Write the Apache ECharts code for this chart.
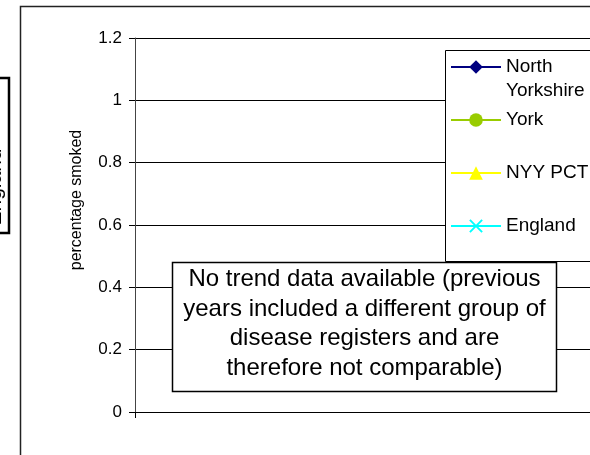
<!DOCTYPE html>
<html>
<head>
<meta charset="utf-8">
<script src="https://cdn.jsdelivr.net/npm/echarts@6/dist/echarts.min.js"></script>
<style>
  html, body { margin: 0; padding: 0; background: #fff; }
  #chart { width: 590px; height: 455px; }
</style>
</head>
<body>
<div id="chart"></div>
<script>
// ---- data (no trend data available: all series are empty) ----
const categories = [''];
const seriesNames = ['North Yorkshire', 'York', 'NYY PCT', 'England'];
const northYorkshire = [];
const york = [];
const nyyPct = [];
const england = [];
const yTicks = [0, 0.2, 0.4, 0.6, 0.8, 1, 1.2];
const yAxisTitle = 'percentage smoked';
const noteText = 'No trend data available (previous\nyears included a different group of\ndisease registers and are\ntherefore not comparable)';
const sideLabel = 'England';

const FONT = '"Liberation Sans", Arial, sans-serif';
const colors = ['#000080', '#99CC00', '#FFFF00', '#00FFFF'];
const symbols = [
  'diamond',
  'circle',
  'triangle',
  'path://M0,1L1,0L5,4L9,0L10,1L6,5L10,9L9,10L5,6L1,10L0,9L4,5Z'
];
const symbolSizes = [[13, 12], 13, 14, 12];
const seriesData = [northYorkshire, york, nyyPct, england];

const chart = echarts.init(document.getElementById('chart'), null, { renderer: 'canvas' });

const series = seriesNames.map((name, i) => ({
  name: name,
  type: 'line',
  data: seriesData[i],
  symbol: symbols[i],
  symbolSize: symbolSizes[i],
  lineStyle: { color: colors[i], width: 2 },
  itemStyle: { color: colors[i] }
}));

const legendTops = [31, 108, 161, 214];
const legendLabels = ['\nNorth\nYorkshire', 'York', 'NYY PCT', 'England'];
const legends = seriesNames.map((name, i) => ({
  data: [name],
  orient: 'vertical',
  left: 450,
  top: legendTops[i],
  padding: 0,
  itemGap: 0,
  itemWidth: 50,
  itemHeight: 17,
  selectedMode: false,
  lineStyle: { width: 2 },
  formatter: () => legendLabels[i],
  textStyle: { fontFamily: FONT, fontSize: 19, color: '#000', lineHeight: 24 }
}));

chart.setOption({
  animation: false,
  backgroundColor: '#fff',
  color: colors,
  grid: { left: 135, top: 38, right: -40, bottom: 43, containLabel: false },
  xAxis: {
    type: 'category',
    data: categories,
    boundaryGap: true,
    axisLine: { show: true, lineStyle: { color: '#000', width: 1 } },
    axisTick: { show: true, length: 6, lineStyle: { color: '#000' } },
    axisLabel: { show: false },
    splitLine: { show: false }
  },
  yAxis: {
    type: 'value',
    min: yTicks[0],
    max: yTicks[yTicks.length - 1],
    interval: 0.2,
    name: yAxisTitle,
    nameLocation: 'middle',
    nameGap: 50,
    nameTextStyle: { fontFamily: FONT, fontSize: 16, color: '#000', padding: [0, 0, 0, 50] },
    axisLine: { show: true, lineStyle: { color: '#444', width: 1 } },
    axisTick: { show: true, length: 6, lineStyle: { color: '#000' } },
    axisLabel: { fontFamily: FONT, fontSize: 17, color: '#000', margin: 13 },
    splitLine: { show: true, lineStyle: { color: '#000', width: 1 } }
  },
  legend: legends,
  series: series,
  graphic: [
    {
      type: 'rect', z: 1,
      shape: { x: 20.5, y: 6.5, width: 700, height: 600 },
      style: { fill: null, stroke: '#222', lineWidth: 1.5 }
    },
    {
      type: 'text', z: 1,
      x: 6, y: 187, rotation: Math.PI / 2,
      style: { text: sideLabel, fontFamily: FONT, fontSize: 21, fill: '#000', align: 'center', verticalAlign: 'bottom' }
    },
    {
      type: 'rect', z: 2,
      shape: { x: -20, y: 78, width: 29, height: 155 },
      style: { fill: null, stroke: '#000', lineWidth: 2.5 }
    },
    {
      type: 'rect', z: 3,
      shape: { x: 445.5, y: 50.5, width: 200, height: 211 },
      style: { fill: '#fff', stroke: '#000', lineWidth: 1 }
    },
    {
      type: 'rect', z: 6,
      shape: { x: 172.5, y: 262.5, width: 384, height: 129 },
      style: { fill: '#fff', stroke: '#000', lineWidth: 1.5 }
    },
    {
      type: 'text', z: 7,
      x: 364.5, y: 324,
      style: { text: noteText, fontFamily: FONT, fontSize: 24, lineHeight: 29.5, fill: '#000', align: 'center', verticalAlign: 'middle' }
    }
  ]
});
</script>
</body>
</html>
